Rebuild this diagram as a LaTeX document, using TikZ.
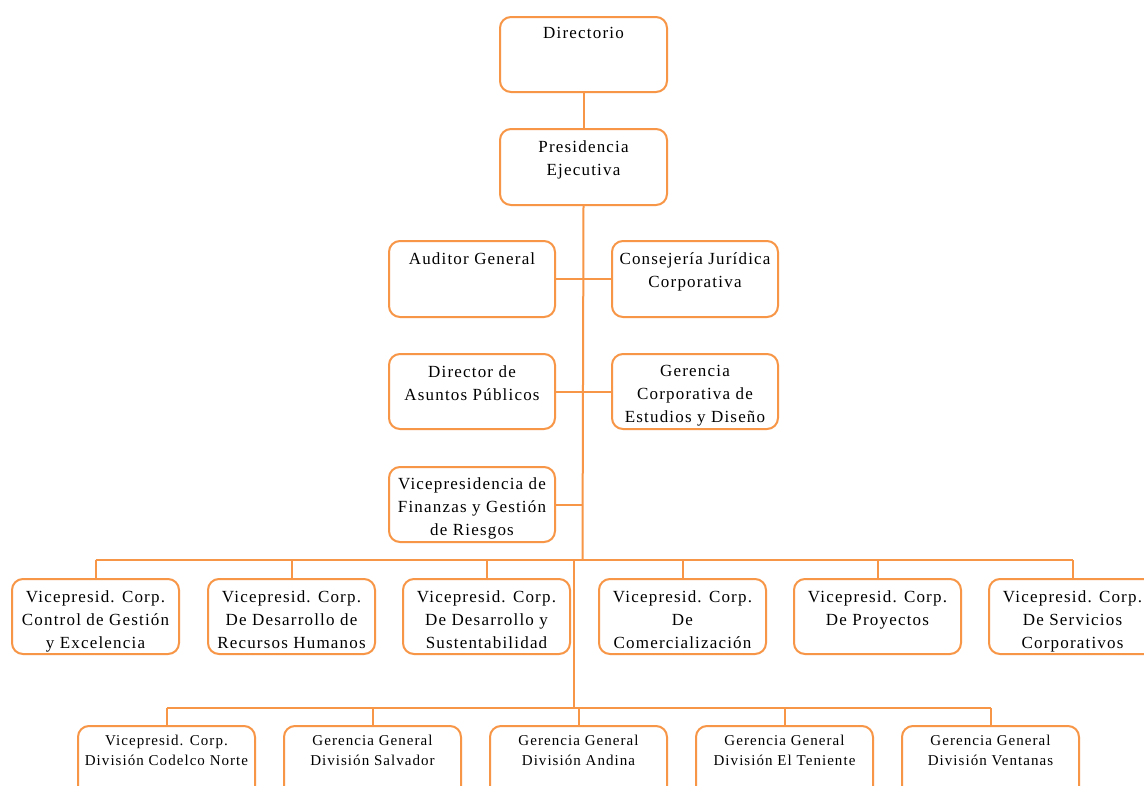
\documentclass[tikz,border=0pt]{standalone}
\usepackage{fontspec}
\setmainfont{Liberation Serif}
\newfontfamily\bxfont[LetterSpace=7]{Liberation Serif}
\definecolor{org}{HTML}{F79646}
\newcommand{\orgtxt}[4]{\parbox[t][#2][t]{#1}{\centering\vspace*{#3}\strut#4}}
\tikzset{
  box/.style={draw=org, line width=2pt, rounded corners=11pt, inner sep=0pt, anchor=north west, fill=white},
  bigf/.style={font=\bxfont\fontsize{17}{23}\selectfont},
  smallf/.style={font=\bxfont\fontsize{15}{20}\selectfont},
  conn/.style={draw=org, line width=2pt}
}
\begin{document}
\begin{tikzpicture}[x=1pt,y=-1pt]
\useasboundingbox (0,0) rectangle (1144,785);
\fill[white] (0,0) rectangle (1144,785);
\coordinate (bus1) at (582.5,560);
\coordinate (j1) at (574,560);
\coordinate (j2) at (574,708);

\node[box,bigf] (dir) at (499,16) {\orgtxt{167pt}{75pt}{5pt}{Directorio}};
\node[box,bigf] (pres) at (499,128) {\orgtxt{167pt}{76pt}{7pt}{Presidencia\\Ejecutiva}};
\node[box,bigf] (aud) at (388,240) {\orgtxt{166pt}{76pt}{7pt}{Auditor General}};
\node[box,bigf] (cons) at (611,240) {\orgtxt{166pt}{76pt}{7pt}{Consejería Jurídica\\Corporativa}};
\node[box,bigf] (dap) at (388,353) {\orgtxt{166pt}{75pt}{7pt}{Director de\\Asuntos Públicos}};
\node[box,bigf] (gce) at (611,353) {\orgtxt{166pt}{75pt}{6pt}{Gerencia\\Corporativa de\\Estudios y Diseño}};
\node[box,bigf] (vpf) at (388,466) {\orgtxt{166pt}{75pt}{6pt}{Vicepresidencia de\\Finanzas y Gestión\\de Riesgos}};

\node[box,bigf] (ra) at (11,578) {\orgtxt{167pt}{75pt}{7pt}{Vicepresid. Corp.\\Control de Gestión\\y Excelencia}};
\node[box,bigf] (rb) at (207,578) {\orgtxt{167pt}{75pt}{7pt}{Vicepresid. Corp.\\De Desarrollo de\\Recursos Humanos}};
\node[box,bigf] (rc) at (402,578) {\orgtxt{167pt}{75pt}{7pt}{Vicepresid. Corp.\\De Desarrollo y\\Sustentabilidad}};
\node[box,bigf] (rd) at (598,578) {\orgtxt{167pt}{75pt}{7pt}{Vicepresid. Corp.\\De\\Comercialización}};
\node[box,bigf] (re) at (793,578) {\orgtxt{167pt}{75pt}{7pt}{Vicepresid. Corp.\\De Proyectos}};
\node[box,bigf] (rf) at (988,578) {\orgtxt{167pt}{75pt}{7pt}{Vicepresid. Corp.\\De Servicios\\Corporativos}};

\node[box,smallf] (sa) at (77,725) {\orgtxt{177pt}{75pt}{5pt}{Vicepresid. Corp.\\División Codelco Norte}};
\node[box,smallf] (sb) at (283,725) {\orgtxt{177pt}{75pt}{5pt}{Gerencia General\\División Salvador}};
\node[box,smallf] (sc) at (489,725) {\orgtxt{177pt}{75pt}{5pt}{Gerencia General\\División Andina}};
\node[box,smallf] (sd) at (695,725) {\orgtxt{177pt}{75pt}{5pt}{Gerencia General\\División El Teniente}};
\node[box,smallf] (se) at (901,725) {\orgtxt{177pt}{75pt}{5pt}{Gerencia General\\División Ventanas}};

\draw[conn] (dir.south) -- (pres.north);
\draw[conn] (pres.south) -- (bus1);
\draw[conn] (aud.east) -- (cons.west);
\draw[conn] (dap.east) -- (gce.west);
\draw[conn] (vpf.east) -- (vpf.east -| bus1);
\draw[conn] (ra.north |- bus1) -- (rf.north |- bus1);
\foreach \n in {ra,rb,rc,rd,re,rf} \draw[conn] (\n.north) -- (\n.north |- bus1);
\draw[conn] (j1) -- (j2);
\draw[conn] (sa.north |- j2) -- (se.north |- j2);
\foreach \n in {sa,sb,sc,sd,se} \draw[conn] (\n.north) -- (\n.north |- j2);
\end{tikzpicture}
\end{document}
